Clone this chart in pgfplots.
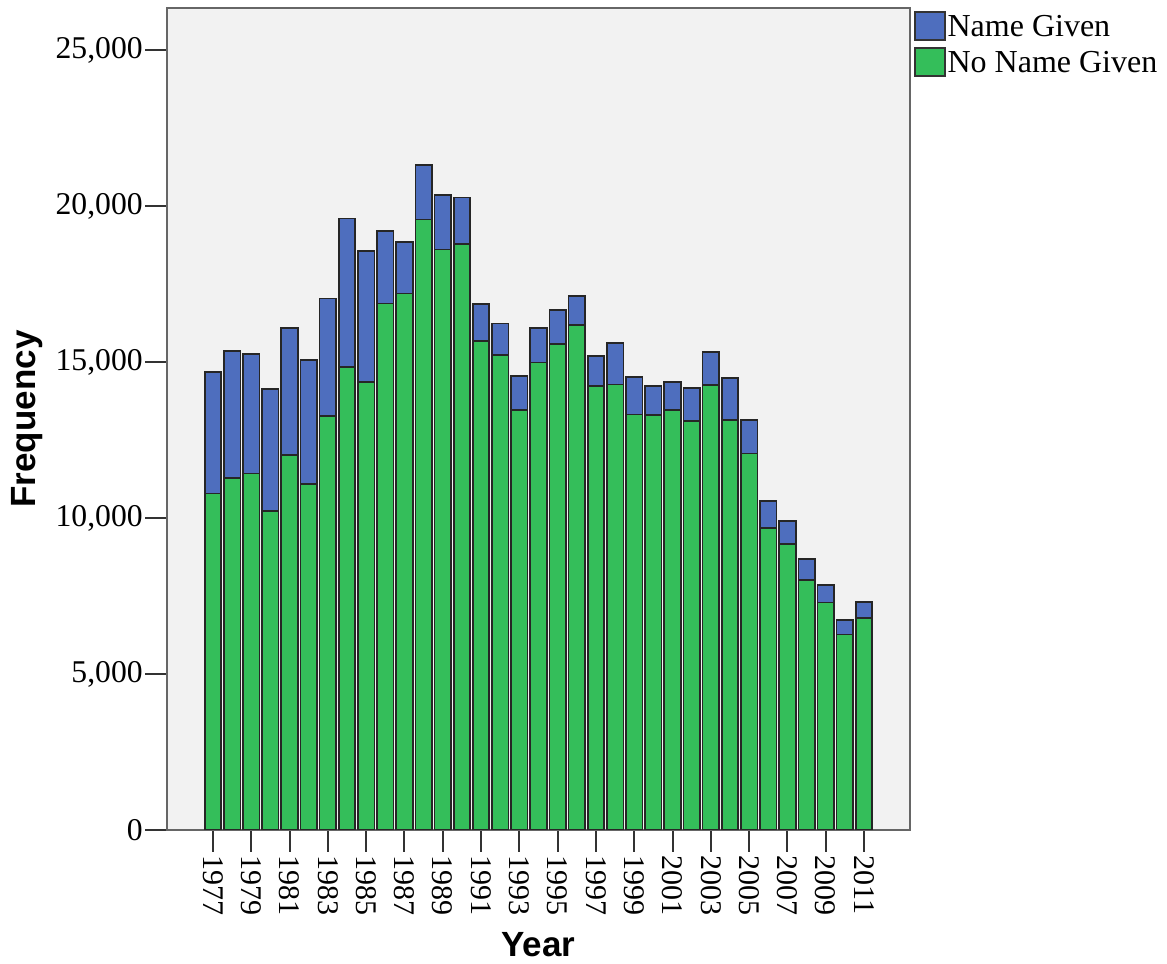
\documentclass[border=0pt]{standalone}
\usepackage{pgfplots}
\pgfplotsset{compat=1.18}
\usepackage{pgfplotstable}
\usepackage{fontspec}
\setmainfont{Liberation Serif}
\setsansfont{Liberation Sans}

\definecolor{nameblue}{RGB}{78,110,190}
\definecolor{nonamegreen}{RGB}{52,190,90}
\definecolor{plotbg}{RGB}{242,242,242}

% year, no name given (green), name given (blue)
\pgfplotstableread{
year noname name
1977 10790 3900
1978 11290 4060
1979 11430 3830
1980 10220 3910
1981 12020 4080
1982 11090 3970
1983 13280 3760
1984 14850 4750
1985 14350 4220
1986 16880 2320
1987 17200 1640
1988 19570 1740
1989 18610 1740
1990 18780 1500
1991 15680 1180
1992 15220 1020
1993 13460 1090
1994 14990 1110
1995 15570 1100
1996 16190 930
1997 14240 960
1998 14280 1340
1999 13320 1210
2000 13300 940
2001 13460 910
2002 13120 1040
2003 14260 1070
2004 13140 1340
2005 12070 1070
2006 9670 870
2007 9170 740
2008 8010 670
2009 7290 560
2010 6270 460
2011 6790 510
}\freq

\begin{document}
\begin{tikzpicture}
\begin{axis}[
    scale only axis,
    width=222.9pt,
    height=246.6pt,
    ybar stacked,
    bar width=0.86,
    xmin=1974.6, xmax=2013.4,
    ymin=0, ymax=26350,
    xtick={1977,1979,...,2011},
    ytick={0,5000,10000,15000,20000,25000},
    xtick pos=bottom,
    ytick pos=left,
    tick align=outside,
    major tick length=6.6pt,
    tick style={black!80, line width=0.6pt},
    axis line style={black!60, line width=0.7pt},
    axis background/.style={fill=plotbg},
    /pgf/number format/assume math mode=true,
    /pgf/number format/1000 sep={,},
    scaled y ticks=false,
    xticklabel={\pgfmathprintnumber[1000 sep={}]{\tick}},
    xticklabel style={rotate=-90, anchor=west, inner sep=0.8pt, font=\fontsize{9}{10}\selectfont},
    yticklabel style={inner sep=0.5pt, font=\fontsize{9.5}{10}\selectfont},
    xlabel={Year},
    ylabel={Frequency},
    xlabel style={at={(axis description cs:0.5,-0.140)}, anchor=center,
        font=\sffamily\bfseries\fontsize{10.5}{12}\selectfont},
    ylabel style={at={(axis description cs:-0.188,0.5)}, anchor=center,
        font=\sffamily\bfseries\fontsize{10.5}{12}\selectfont},
    reverse legend,
    legend style={at={(axis description cs:1.004,0.997)}, anchor=north west, draw=none, fill=none,
        font=\fontsize{9.6}{11}\selectfont, inner sep=0pt, row sep=0.9pt,
        nodes={inner sep=0.6pt},
        /tikz/every even column/.append style={column sep=0pt}},
    legend cell align=left,
    legend image code/.code={\draw[#1, draw=black!80, line width=0.6pt] (0pt,-3.4pt) rectangle (9pt,5pt);},
]
\addplot[fill=nonamegreen, draw=black!85, line width=0.5pt] table[x=year, y=noname] {\freq};
\addplot[fill=nameblue, draw=black!85, line width=0.5pt] table[x=year, y=name] {\freq};
\legend{No Name Given, Name Given}
\end{axis}
\pgfresetboundingbox
\path ([xshift=-50.1pt,yshift=-40.2pt]current axis.south west)
  rectangle ([xshift=77.1pt,yshift=2.4pt]current axis.north east);
\end{tikzpicture}
\end{document}
